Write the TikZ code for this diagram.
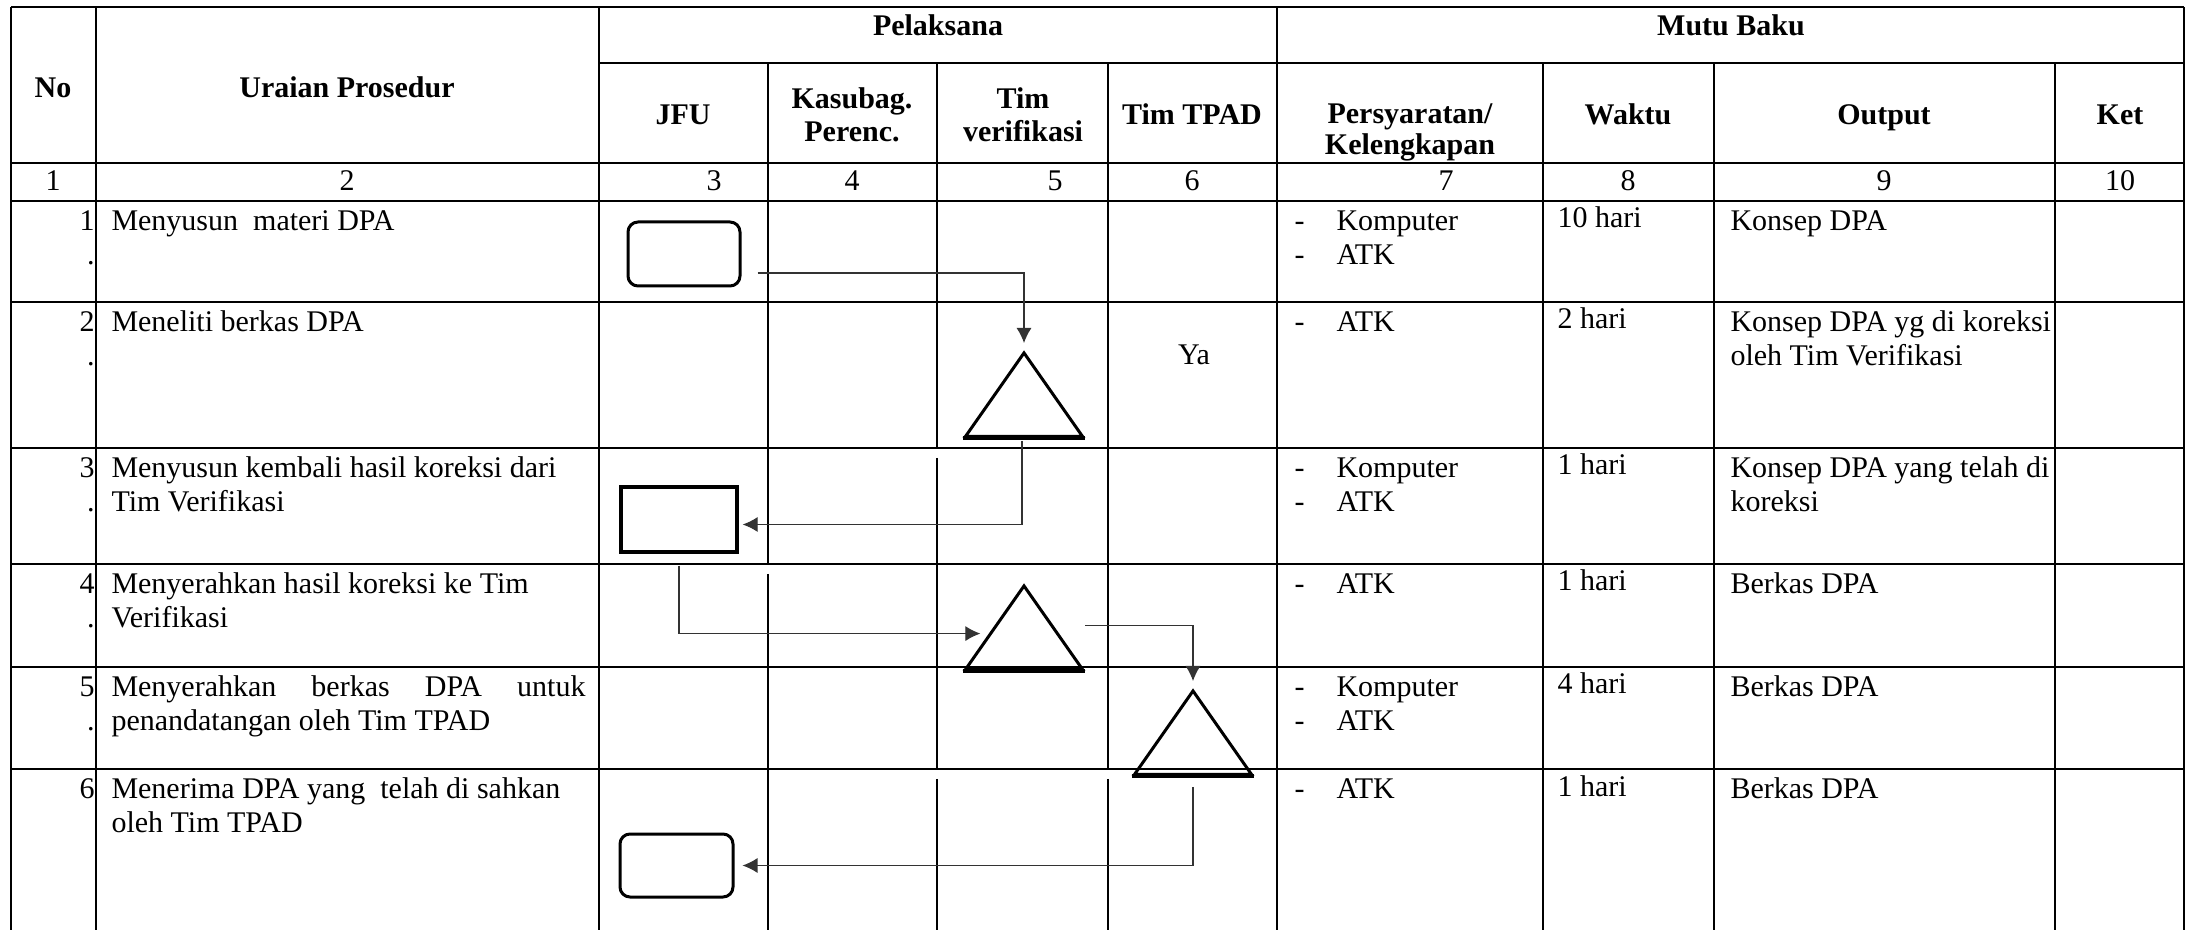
\documentclass[tikz,border=0pt]{standalone}
\usepackage{fontspec}
\setmainfont{Liberation Serif}
\usetikzlibrary{arrows.meta,calc,shapes.geometric}

\tikzset{
  tline/.style={line width=0.9pt},
  tthin/.style={line width=0.5pt},
  hd/.style={font=\fontsize{12}{13.8}\selectfont\bfseries, inner sep=0pt, anchor=base},
  num/.style={font=\fontsize{12}{13.8}\selectfont, inner sep=0pt, anchor=base},
  txt/.style={font=\fontsize{12}{13.8}\selectfont, inner sep=0pt, anchor=base west},
  nolbl/.style={font=\fontsize{12}{13.8}\selectfont, inner sep=0pt, anchor=base east},
  term/.style={draw, line width=1.2pt, rounded corners=4pt, inner sep=0pt},
  proc/.style={draw, line width=1.3pt, inner sep=0pt},
  tri/.style={draw, line width=1.2pt, isosceles triangle, isosceles triangle stretches,
    shape border rotate=90, minimum width=46.8pt, minimum height=33.4pt, inner sep=0pt, anchor=apex},
  conn/.style={draw=black!80, line width=0.45pt, -{Latex[length=6pt,width=6pt]}},
}

\begin{document}
\begin{tikzpicture}[x=0.4pt,y=-0.4pt]
  \useasboundingbox (0,0) rectangle (2191,930);

  \draw[tline] (11,7) -- (2184,7);
  \draw[tline] (599,63) -- (2184,63);
  \draw[tline] (11,163) -- (2184,163);
  \draw[tline] (11,201) -- (2184,201);
  \draw[tline] (11,302) -- (2184,302);
  \draw[tline] (11,448) -- (2184,448);
  \draw[tline] (11,564) -- (2184,564);
  \draw[tline] (11,667) -- (2184,667);
  \draw[tline] (11,769) -- (2184,769);

  \draw[tline] (11,7) -- (11,930);
  \draw[tline] (96,7) -- (96,930);
  \draw[tline] (599,7) -- (599,930);
  \draw[tline] (768,63) -- (768,564);
  \draw[tthin] (768,574) -- (768,673);
  \draw[tline] (768,667) -- (768,930);
  \draw[tline] (937,63) -- (937,448);
  \draw[tline] (937,458) -- (937,769);
  \draw[tthin] (937,779) -- (937,930);
  \draw[tline] (1108,63) -- (1108,769);
  \draw[tthin] (1108,779) -- (1108,930);
  \draw[tline] (1277,7) -- (1277,930);
  \draw[tline] (1543,63) -- (1543,930);
  \draw[tline] (1714,63) -- (1714,930);
  \draw[tline] (2055,63) -- (2055,930);
  \draw[tline] (2184,7) -- (2184,930);

  \node[hd] (hNo) at (53,98) {No};
  \node[hd] (hUraian) at (347,98) {Uraian Prosedur};
  \node[hd] (hPel) at (938,36) {Pelaksana};
  \node[hd] (hMutu) at (1731,36) {Mutu Baku};
  \node[hd] (hJfu) at (683,125) {JFU};
  \node[hd] (hKas) at (852,109) {Kasubag.};
  \node[hd] (hKasB) at (852,142) {Perenc.};
  \node[hd] (hTim) at (1023,109) {Tim};
  \node[hd] (hTimB) at (1023,142) {verifikasi};
  \node[hd] (hTpad) at (1192,125) {Tim TPAD};
  \node[hd] (hSyarat) at (1410,124) {Persyaratan/};
  \node[hd] (hSyaratB) at (1410,155) {Kelengkapan};
  \node[hd] (hWaktu) at (1628,125) {Waktu};
  \node[hd] (hOut) at (1884,125) {Output};
  \node[hd] (hKet) at (2120,125) {Ket};

  \node[num] (n1) at (53,191) {1};
  \node[num] (n2) at (347,191) {2};
  \node[num] (n3) at (714,191) {3};
  \node[num] (n4) at (852,191) {4};
  \node[num] (n5) at (1055,191) {5};
  \node[num] (n6) at (1192,191) {6};
  \node[num] (n7) at (1446,191) {7};
  \node[num] (n8) at (1628,191) {8};
  \node[num] (n9) at (1884,191) {9};
  \node[num] (n10) at (2120,191) {10};

  \node[nolbl] (r1no) at (95,231) {1};
  \node[nolbl] (r1dot) at (95,265) {.};
  \node[txt] (r1u) at (111,231) {Menyusun~ materi DPA};
  \node[txt] (r1da) at (1294,231) {-};
  \node[txt] (r1ka) at (1336,231) {Komputer};
  \node[txt] (r1db) at (1294,265) {-};
  \node[txt] (r1kb) at (1336,265) {ATK};
  \node[txt] (r1w) at (1557,228) {10 hari};
  \node[txt] (r1o) at (1730,231) {Konsep DPA};

  \node[nolbl] (r2no) at (95,332) {2};
  \node[nolbl] (r2dot) at (95,366) {.};
  \node[txt] (r2u) at (111,332) {Meneliti berkas DPA};
  \node[num] (r2ya) at (1194,365) {Ya};
  \node[txt] (r2da) at (1294,332) {-};
  \node[txt] (r2ka) at (1336,332) {ATK};
  \node[txt] (r2w) at (1557,329) {2 hari};
  \node[txt] (r2o) at (1730,332) {Konsep DPA yg di koreksi};
  \node[txt] (r2oB) at (1730,366) {oleh Tim Verifikasi};

  \node[nolbl] (r3no) at (95,478) {3};
  \node[nolbl] (r3dot) at (95,512) {.};
  \node[txt] (r3u) at (111,478) {Menyusun kembali hasil koreksi dari};
  \node[txt] (r3uB) at (111,512) {Tim Verifikasi};
  \node[txt] (r3da) at (1294,478) {-};
  \node[txt] (r3ka) at (1336,478) {Komputer};
  \node[txt] (r3db) at (1294,512) {-};
  \node[txt] (r3kb) at (1336,512) {ATK};
  \node[txt] (r3w) at (1557,475) {1 hari};
  \node[txt] (r3o) at (1730,478) {Konsep DPA yang telah di};
  \node[txt] (r3oB) at (1730,512) {koreksi};

  \node[nolbl] (r4no) at (95,594) {4};
  \node[nolbl] (r4dot) at (95,628) {.};
  \node[txt] (r4u) at (111,594) {Menyerahkan hasil koreksi ke Tim};
  \node[txt] (r4uB) at (111,628) {Verifikasi};
  \node[txt] (r4da) at (1294,594) {-};
  \node[txt] (r4ka) at (1336,594) {ATK};
  \node[txt] (r4w) at (1557,591) {1 hari};
  \node[txt] (r4o) at (1730,594) {Berkas DPA};

  \node[nolbl] (r5no) at (95,697) {5};
  \node[nolbl] (r5dot) at (95,731) {.};
  \node[txt] (r5u) at (111,697) {\makebox[189.6pt][s]{Menyerahkan berkas DPA untuk}};
  \node[txt] (r5uB) at (111,731) {penandatangan oleh Tim TPAD};
  \node[txt] (r5da) at (1294,697) {-};
  \node[txt] (r5ka) at (1336,697) {Komputer};
  \node[txt] (r5db) at (1294,731) {-};
  \node[txt] (r5kb) at (1336,731) {ATK};
  \node[txt] (r5w) at (1557,694) {4 hari};
  \node[txt] (r5o) at (1730,697) {Berkas DPA};

  \node[nolbl] (r6no) at (95,799) {6};
  \node[txt] (r6u) at (111,799) {Menerima DPA yang~ telah di sahkan};
  \node[txt] (r6uB) at (111,833) {oleh Tim TPAD};
  \node[txt] (r6da) at (1294,799) {-};
  \node[txt] (r6ka) at (1336,799) {ATK};
  \node[txt] (r6w) at (1557,796) {1 hari};
  \node[txt] (r6o) at (1730,799) {Berkas DPA};

  \node[term, minimum width=44.8pt, minimum height=25.6pt] (s1) at (684,254) {};
  \node[tri] (t2) at (1024,349) {};
  \node[proc, minimum width=46.4pt, minimum height=26pt] (s3) at (679,519.5) {};
  \node[tri] (t4) at (1024,582) {};
  \node[tri] (t5) at (1193,687) {};
  \node[term, minimum width=45.2pt, minimum height=25.2pt] (s6) at (676.5,865.5) {};

  \draw[line width=1.8pt] (t2.left corner) -- (t2.right corner);
  \draw[line width=1.8pt] (t4.left corner) -- (t4.right corner);
  \draw[line width=1.8pt] (t5.left corner) -- (t5.right corner);

  \draw[conn] ($(s1.east)+(16,19)$) -| ($(t2.apex)+(0,-6)$);
  \draw[conn] ($(t2.left corner)!0.5!(t2.right corner)+(-2,3)$) |- ($(s3.east)+(4,5)$);
  \draw[conn] ($(s3.south)+(0,12)$) |- ($(t4.left corner)!0.42!(t4.apex)+(-8,0)$);
  \draw[conn] ($(t4.right corner)+(0,-45)$) -| ($(t5.apex)+(0,-6)$);
  \draw[conn] ($(t5.left corner)!0.5!(t5.right corner)+(0,11)$) |- ($(s6.east)+(8,0)$);
\end{tikzpicture}
\end{document}
